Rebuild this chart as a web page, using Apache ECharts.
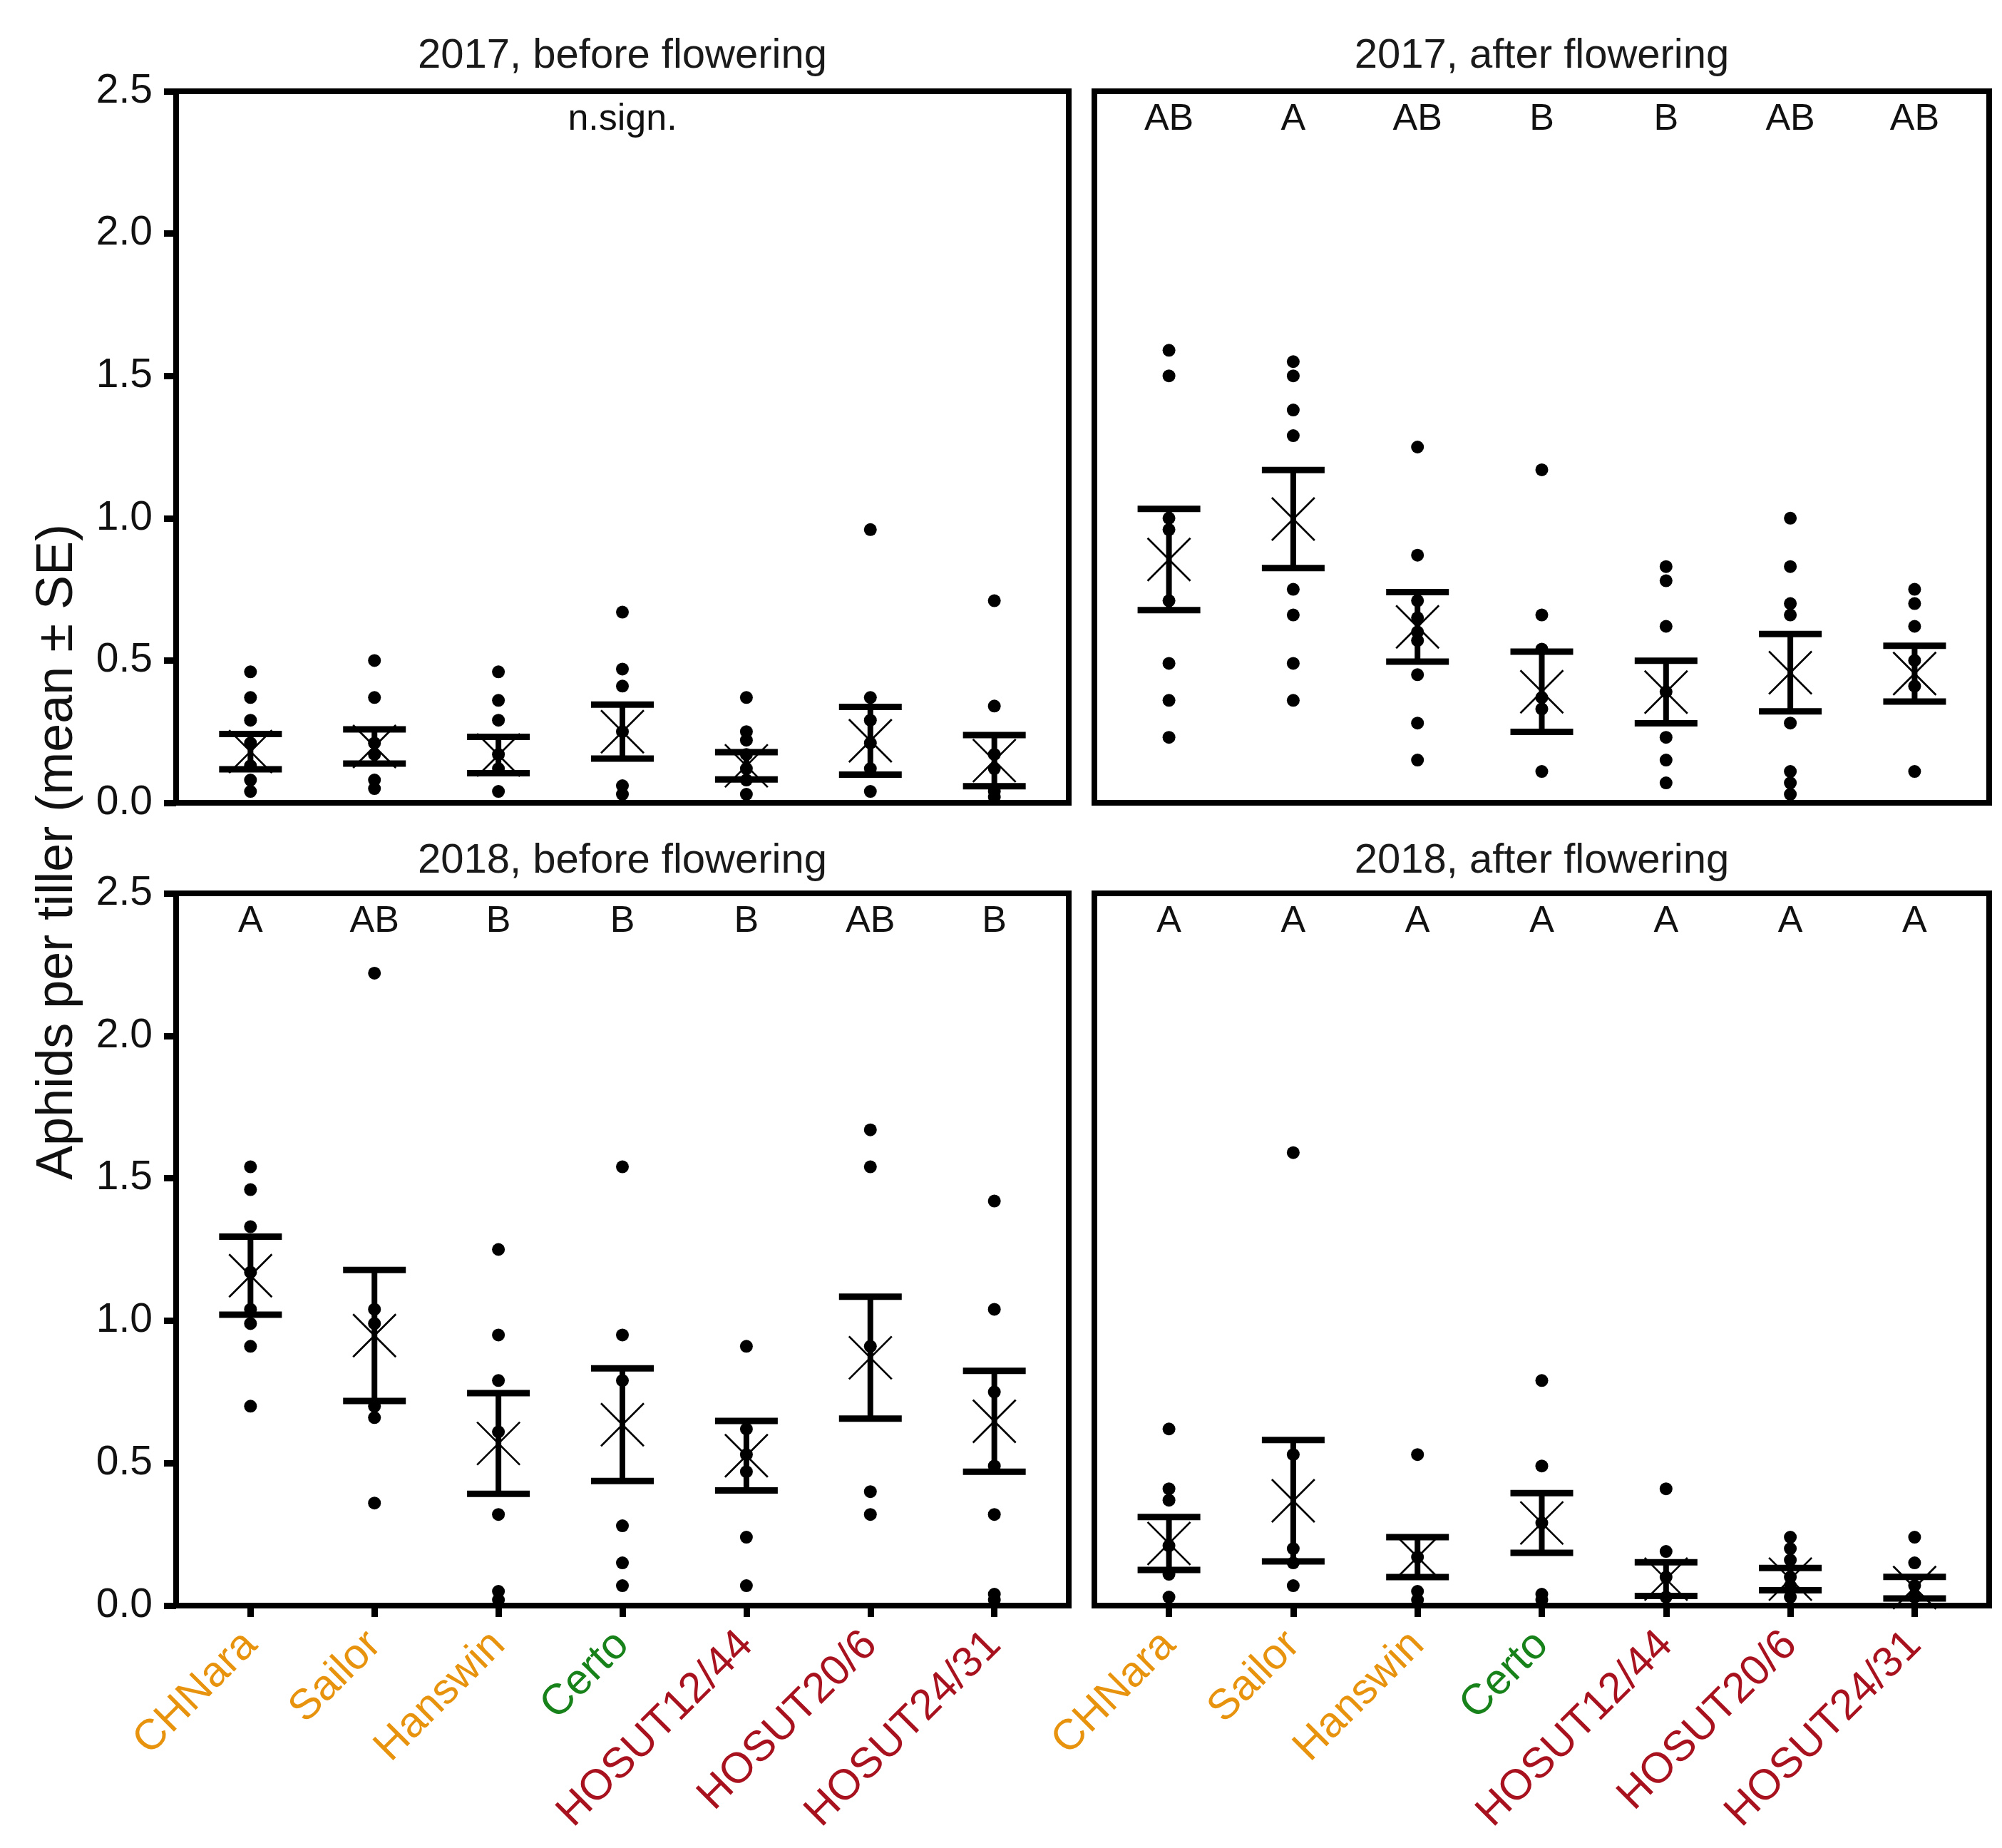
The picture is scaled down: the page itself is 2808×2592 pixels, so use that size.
<!DOCTYPE html>
<html>
<head>
<meta charset="utf-8">
<script src="https://cdn.jsdelivr.net/npm/echarts@6/dist/echarts.min.js"></script>
<style>
html,body{margin:0;padding:0;background:#fff;}
#chart{width:2808px;height:2592px;}
</style>
</head>
<body>
<div id="chart"></div>
<script>
// ---------- data ----------
const categories = ['CHNara','Sailor','Hanswin','Certo','HOSUT12/44','HOSUT20/6','HOSUT24/31'];
const labelColors = ['#E8930E','#E8930E','#E8930E','#17811A','#A8121E','#A8121E','#A8121E'];
const yTicks = [0, 0.5, 1.0, 1.5, 2.0, 2.5];
const panelTitles = ['2017, before flowering','2017, after flowering','2018, before flowering','2018, after flowering'];

// 2017, before flowering
const dots2017before = [
  [0.46,0.37,0.29,0.21,0.13,0.08,0.04],
  [0.50,0.37,0.21,0.17,0.08,0.05],
  [0.46,0.36,0.29,0.17,0.12,0.04],
  [0.67,0.47,0.41,0.25,0.06,0.03],
  [0.37,0.25,0.22,0.17,0.12,0.08,0.03],
  [0.96,0.37,0.29,0.21,0.12,0.04],
  [0.71,0.34,0.17,0.12,0.04,0.02]
];
const mean2017before = [0.18,0.198,0.168,0.25,0.13,0.218,0.148];
const se2017before   = [0.062,0.06,0.064,0.095,0.048,0.119,0.09];
const letters2017before = ['','','','n.sign.','','',''];

// 2017, after flowering
const dots2017after = [
  [1.59,1.50,1.00,0.96,0.71,0.49,0.36,0.23],
  [1.55,1.50,1.38,1.29,0.75,0.66,0.49,0.36],
  [1.25,0.87,0.71,0.65,0.60,0.57,0.45,0.28,0.15],
  [1.17,0.66,0.54,0.37,0.33,0.11],
  [0.83,0.78,0.62,0.39,0.23,0.15,0.07],
  [1.00,0.83,0.70,0.66,0.28,0.11,0.07,0.03],
  [0.75,0.70,0.62,0.50,0.41,0.11]
];
const mean2017after = [0.855,0.997,0.618,0.39,0.389,0.457,0.454];
const se2017after   = [0.178,0.172,0.122,0.141,0.11,0.136,0.098];
const letters2017after = ['AB','A','AB','B','B','AB','AB'];

// 2018, before flowering
const dots2018before = [
  [1.54,1.46,1.33,1.17,1.04,0.99,0.91,0.70],
  [2.22,1.04,0.99,0.70,0.66,0.36],
  [1.25,0.95,0.79,0.61,0.32,0.05,0.02],
  [1.54,0.95,0.79,0.28,0.15,0.07],
  [0.91,0.62,0.53,0.47,0.24,0.07],
  [1.67,1.54,0.91,0.40,0.32],
  [1.42,1.04,0.75,0.49,0.32,0.04,0.02]
];
const mean2018before = [1.158,0.948,0.569,0.635,0.526,0.87,0.647];
const se2018before   = [0.137,0.23,0.177,0.198,0.122,0.214,0.177];
const letters2018before = ['A','AB','B','B','B','AB','B'];

// 2018, after flowering
const dots2018after = [
  [0.62,0.41,0.37,0.21,0.11,0.03],
  [1.59,0.53,0.20,0.15,0.07],
  [0.53,0.17,0.05,0.02],
  [0.79,0.49,0.29,0.04,0.02],
  [0.41,0.19,0.10,0.03],
  [0.24,0.20,0.16,0.10,0.07,0.03],
  [0.24,0.15,0.07,0.03]
];
const mean2018after = [0.218,0.368,0.17,0.29,0.093,0.093,0.063];
const se2018after   = [0.093,0.213,0.07,0.105,0.059,0.039,0.038];
const letters2018after = ['A','A','A','A','A','A','A'];

// ---------- layout / styling ----------
const FONT = "'Liberation Sans', Arial, Helvetica, sans-serif";
const panels = [
  {dots: dots2017before, mean: mean2017before, se: se2017before, letters: letters2017before},
  {dots: dots2017after,  mean: mean2017after,  se: se2017after,  letters: letters2017after},
  {dots: dots2018before, mean: mean2018before, se: se2018before, letters: letters2018before},
  {dots: dots2018after,  mean: mean2018after,  se: se2018after,  letters: letters2018after}
];
const gridRects = [
  {left: 247,  top: 128,  width: 1252, height: 998},
  {left: 1535, top: 128,  width: 1255, height: 998},
  {left: 247,  top: 1253, width: 1252, height: 999},
  {left: 1535, top: 1253, width: 1255, height: 999}
];
const titleY = [79, 79, 1208, 1208];

const catIdx = categories.map((c, i) => i);
const rich = {};
categories.forEach((c, i) => {
  rich['c' + i] = {color: labelColors[i], fontSize: 60, fontFamily: FONT};
});

const grids = gridRects.map(r => Object.assign({
  show: true, borderColor: '#000', borderWidth: 8, backgroundColor: 'transparent', containLabel: false
}, r));

const xAxes = gridRects.map((r, gi) => {
  const bottom = gi >= 2;
  return {
    type: 'value', gridIndex: gi, min: -0.6, max: 6.6, position: 'bottom',
    axisLine: {show: true, onZero: false, lineStyle: {color: '#000', width: 8}},
    splitLine: {show: false},
    axisTick: bottom ? {show: true, customValues: catIdx, length: 16, lineStyle: {color: '#000', width: 9}} : {show: false},
    axisLabel: bottom ? {
      show: true, customValues: catIdx, rotate: 45, margin: 46,
      formatter: v => { const i = Math.round(v); return '{c' + i + '|' + categories[i] + '}'; },
      rich: rich
    } : {show: false}
  };
});

const yAxes = gridRects.map((r, gi) => {
  const left = gi % 2 === 0;
  return {
    type: 'value', gridIndex: gi, min: 0, max: 2.5, interval: 0.5, position: 'left',
    axisLine: {show: true, onZero: false, lineStyle: {color: '#000', width: 8}},
    splitLine: {show: false},
    axisTick: left ? {show: true, length: 17, lineStyle: {color: '#000', width: 9}} : {show: false},
    axisLabel: left ? {
      show: true, margin: 33, fontSize: 57, fontFamily: FONT, color: '#111',
      formatter: v => v.toFixed(1)
    } : {show: false}
  };
});

const series = [];
panels.forEach((p, gi) => {
  const pts = [];
  p.dots.forEach((arr, ci) => arr.forEach(v => pts.push([ci, v])));
  series.push({
    type: 'scatter', xAxisIndex: gi, yAxisIndex: gi, data: pts,
    symbol: 'circle', symbolSize: 18, itemStyle: {color: '#000', opacity: 1}, silent: true, z: 3
  });
  series.push({
    type: 'custom', xAxisIndex: gi, yAxisIndex: gi, z: 4, silent: true,
    data: p.mean.map((m, ci) => [ci, m, p.se[ci]]),
    encode: {x: 0, y: 1},
    renderItem: function (params, api) {
      const x = api.value(0), m = api.value(1), s = api.value(2);
      const c = api.coord([x, m]);
      const hi = api.coord([x, m + s]);
      const lo = api.coord([x, m - s]);
      const cw = 44, xw = 30;
      return {
        type: 'group',
        children: [
          {type: 'line', shape: {x1: hi[0], y1: hi[1], x2: lo[0], y2: lo[1]}, style: {stroke: '#000', lineWidth: 8}},
          {type: 'line', shape: {x1: hi[0] - cw, y1: hi[1], x2: hi[0] + cw, y2: hi[1]}, style: {stroke: '#000', lineWidth: 9}},
          {type: 'line', shape: {x1: lo[0] - cw, y1: lo[1], x2: lo[0] + cw, y2: lo[1]}, style: {stroke: '#000', lineWidth: 9}},
          {type: 'line', shape: {x1: c[0] - xw, y1: c[1] - xw, x2: c[0] + xw, y2: c[1] + xw}, style: {stroke: '#000', lineWidth: 2.7}},
          {type: 'line', shape: {x1: c[0] - xw, y1: c[1] + xw, x2: c[0] + xw, y2: c[1] - xw}, style: {stroke: '#000', lineWidth: 2.7}}
        ]
      };
    }
  });
  series.push({
    type: 'custom', xAxisIndex: gi, yAxisIndex: gi, z: 5, silent: true,
    data: p.letters.map((t, ci) => [ci, 2.4, t]),
    encode: {x: 0, y: 1},
    renderItem: function (params, api) {
      const x = api.value(0), y = api.value(1);
      const t = p.letters[params.dataIndex];
      const c = api.coord([x, y]);
      return {
        type: 'text', x: c[0], y: c[1],
        style: {text: t, fill: '#111', fontSize: 52, fontFamily: FONT, align: 'center', verticalAlign: 'middle'}
      };
    }
  });
});

const graphics = [];
gridRects.forEach((r, gi) => {
  graphics.push({
    type: 'text', x: r.left + r.width / 2, y: titleY[gi],
    style: {text: panelTitles[gi], fill: '#1a1a1a', fontSize: 58, fontFamily: FONT, align: 'center', verticalAlign: 'middle'}
  });
});
graphics.push({
  type: 'text', x: 81, y: 1195, rotation: Math.PI / 2,
  style: {text: 'Aphids per tiller (mean \u00b1 SE)', fill: '#111', fontSize: 72, fontFamily: FONT, align: 'center', verticalAlign: 'middle'}
});

const chart = echarts.init(document.getElementById('chart'), null, {renderer: 'canvas'});
chart.setOption({
  backgroundColor: '#fff',
  animation: false,
  grid: grids,
  xAxis: xAxes,
  yAxis: yAxes,
  series: series,
  graphic: graphics
});
</script>
</body>
</html>
